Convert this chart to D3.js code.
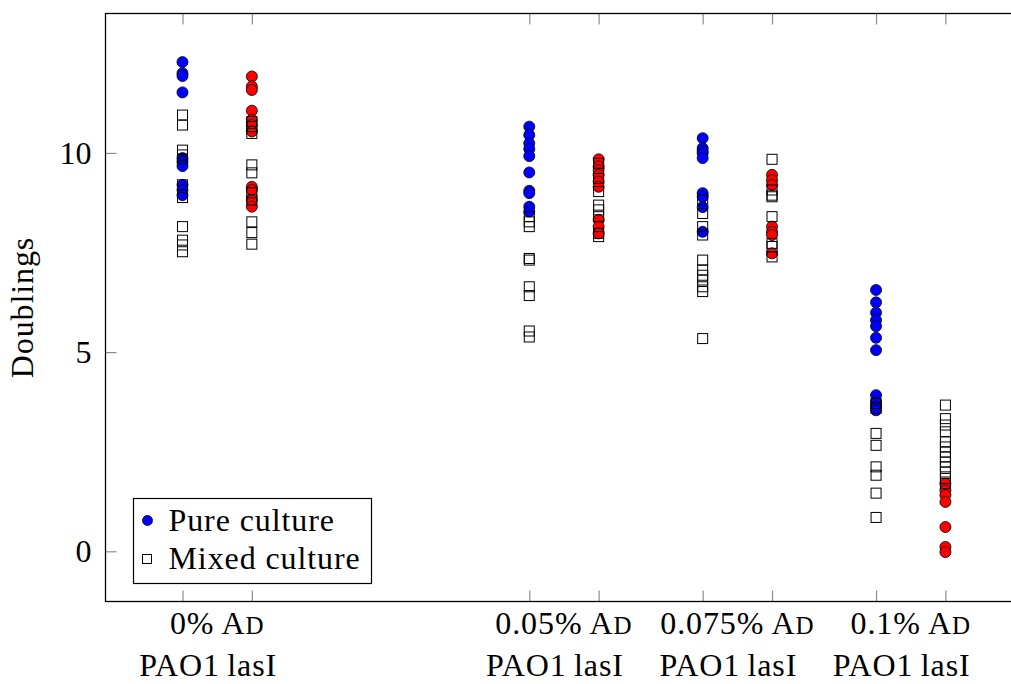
<!DOCTYPE html>
<html>
<head>
<meta charset="utf-8">
<script src="https://cdn.jsdelivr.net/npm/d3@7"></script>
<style>
body { margin: 0; background: #fff; }
text { font-family: "Liberation Serif", "Times New Roman", serif; fill: #000; }
</style>
</head>
<body>
<script>
var width = 1011, height = 684;

//Conditions (Ad concentration, %) and the two strains plotted at each one.
var conditions = ['0%', '0.05%', '0.075%', '0.1%'];
var concentrations = [0, 0.05, 0.075, 0.1];
var strains = ['PAO1', 'lasI'];
var strainShift = [0, 0.01];
var yTicks = [0, 5, 10];

//Doublings. One list per condition.
var purePAO1 = [
	[12.28, 12.0, 11.93, 11.52, 9.87, 9.78, 9.67, 9.2, 9.07, 8.94],
	[10.66, 10.45, 10.24, 10.1, 9.92, 9.51, 9.05, 8.99, 8.65, 8.53],
	[10.37, 10.12, 10.05, 9.99, 9.87, 8.99, 8.9, 8.64, 8.02],
	[6.56, 6.25, 5.99, 5.8, 5.65, 5.36, 5.05, 3.92, 3.75, 3.63, 3.54]
];
var pureLasI = [
	[11.92, 11.67, 11.58, 11.06, 10.83, 10.7, 10.54, 9.15, 9.07, 8.82, 8.65],
	[9.84, 9.66, 9.57, 9.45, 9.28, 9.15, 8.32, 8.15, 7.98],
	[9.45, 9.32, 9.2, 8.15, 8.02, 7.94, 7.48],
	[1.7, 1.53, 1.41, 1.24, 0.61, 0.11, -0.02]
];
var mixedPAO1 = [
	[10.95, 10.7, 10.07, 9.95, 9.85, 9.2, 8.88, 8.15, 7.81, 7.69, 7.52],
	[8.4, 8.27, 8.15, 7.35, 7.31, 6.64, 6.42, 5.53, 5.38],
	[8.82, 8.48, 8.15, 7.94, 7.31, 7.06, 6.93, 6.81, 6.64, 6.52, 5.34],
	[3.71, 3.59, 2.96, 2.66, 2.12, 1.91, 1.46, 0.85]
];
var mixedLasI = [
	[10.79, 10.66, 10.49, 9.7, 9.5, 9.0, 8.82, 8.27, 8.0, 7.71],
	[9.74, 9.36, 9.03, 8.69, 8.57, 8.4, 7.98, 7.9],
	[9.84, 9.07, 8.94, 8.9, 8.4, 7.73, 7.65, 7.39],
	[3.67, 3.33, 3.17, 3.0, 2.75, 2.62, 2.49, 2.37, 2.24, 2.12, 1.99, 1.83, 1.7]
];

var margin = {top: 13.5, left: 105.5, bottom: 82.5};
var plotRight = 1012;
var fontSize = '32px', spacing = '0.9px';

var svg = d3.select('body').append('svg')
	.attr('width', width)
	.attr('height', height);

var xScale = d3.scaleLinear().domain([-0.0111, 0.1196]).range([margin.left, plotRight]);
var yScale = d3.scaleLinear().domain([-1.26, 13.5]).range([height - margin.bottom, margin.top]);

//Flatten the lists into points with an x value per strain.
function toPoints(lists, strainIndex) {
	var pts = [];
	lists.forEach(function(vals, ci) {
		vals.forEach(function(v) {
			pts.push({x: concentrations[ci] + strainShift[strainIndex], y: v});
		});
	});
	return pts;
}
var pure = toPoints(purePAO1, 0).map(function(d) { d.c = '#0000ff'; return d; })
	.concat(toPoints(pureLasI, 1).map(function(d) { d.c = '#ff0000'; return d; }));
var mixed = toPoints(mixedPAO1, 0).concat(toPoints(mixedLasI, 1));

var tickXs = [];
concentrations.forEach(function(c) {
	strainShift.forEach(function(s) { tickXs.push(c + s); });
});

//Axes: ticks point inward, frame drawn separately.
var yAxis = svg.append('g')
	.attr('transform', 'translate(' + margin.left + ',0)')
	.call(d3.axisLeft(yScale).tickValues(yTicks).tickSize(-11).tickPadding(14));
var xAxisB = svg.append('g')
	.attr('transform', 'translate(0,' + (height - margin.bottom) + ')')
	.call(d3.axisBottom(xScale).tickValues(tickXs).tickSize(-11).tickFormat(''));
var xAxisT = svg.append('g')
	.attr('transform', 'translate(0,' + margin.top + ')')
	.call(d3.axisTop(xScale).tickValues(tickXs).tickSize(-11).tickFormat(''));
[yAxis, xAxisB, xAxisT].forEach(function(a) {
	a.select('.domain').remove();
	a.selectAll('.tick line').attr('stroke', '#8c8c8c').attr('stroke-width', 1.2);
	a.selectAll('.tick text').style('font-family', '"Liberation Serif", serif').style('font-size', fontSize).attr('fill', '#000');
});

svg.append('rect')
	.attr('x', margin.left).attr('y', margin.top)
	.attr('width', plotRight - margin.left)
	.attr('height', height - margin.bottom - margin.top)
	.attr('fill', 'none').attr('stroke', '#000').attr('stroke-width', 1.3);

//Group labels under each pair of ticks.
conditions.forEach(function(name, ci) {
	var cx = (xScale(concentrations[ci] + strainShift[0]) + xScale(concentrations[ci] + strainShift[1])) / 2;
	var t = svg.append('text')
		.attr('x', cx).attr('y', 634)
		.attr('text-anchor', 'middle')
		.style('font-size', fontSize).style('letter-spacing', spacing);
	t.append('tspan').text(name + ' A');
	t.append('tspan').style('font-size', '25px').text('D');
	svg.append('text')
		.attr('x', cx - 9).attr('y', 676)
		.attr('text-anchor', 'middle')
		.style('font-size', fontSize).style('letter-spacing', spacing)
		.text(strains[0] + '\u2009' + strains[1]);
});

svg.append('text')
	.attr('transform', 'translate(33,' + ((margin.top + height - margin.bottom) / 2) + ') rotate(-90)')
	.attr('text-anchor', 'middle')
	.style('font-size', fontSize).style('letter-spacing', spacing)
	.text('Doublings');

//Pure culture circles first, mixed culture squares drawn over them.
svg.append('g').selectAll('circle').data(pure).enter().append('circle')
	.attr('cx', function(d) { return xScale(d.x); })
	.attr('cy', function(d) { return yScale(d.y); })
	.attr('r', 5.5)
	.attr('fill', function(d) { return d.c; })
	.attr('stroke', '#000').attr('stroke-width', 0.8);

svg.append('g').selectAll('rect').data(mixed).enter().append('rect')
	.attr('x', function(d) { return xScale(d.x) - 5; })
	.attr('y', function(d) { return yScale(d.y) - 5; })
	.attr('width', 10).attr('height', 10)
	.attr('fill', 'none')
	.attr('stroke', '#000').attr('stroke-width', 1);

//Legend
var legend = svg.append('g').attr('transform', 'translate(133.5,498.5)');
legend.append('rect')
	.attr('width', 238).attr('height', 85)
	.attr('fill', '#fff').attr('stroke', '#000').attr('stroke-width', 1.2);
legend.append('circle')
	.attr('cx', 14).attr('cy', 22).attr('r', 5)
	.attr('fill', '#0000ff').attr('stroke', '#000').attr('stroke-width', 0.8);
legend.append('rect')
	.attr('x', 9).attr('y', 56).attr('width', 9).attr('height', 9)
	.attr('fill', 'none').attr('stroke', '#000').attr('stroke-width', 1);
legend.append('text').attr('x', 35).attr('y', 32)
	.style('font-size', fontSize).style('letter-spacing', spacing).text('Pure culture');
legend.append('text').attr('x', 35).attr('y', 70)
	.style('font-size', fontSize).style('letter-spacing', spacing).text('Mixed culture');
</script>
</body>
</html>
